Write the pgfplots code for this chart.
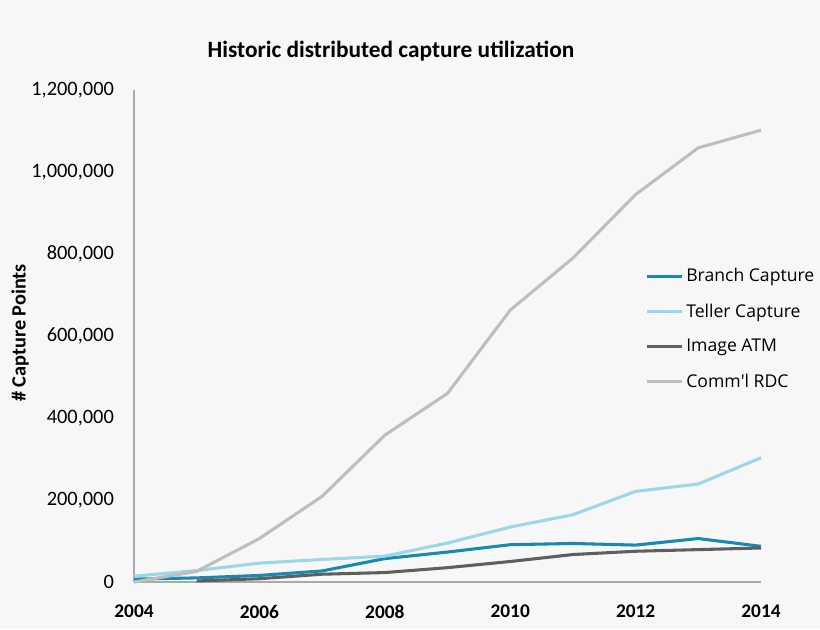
\documentclass[border=0pt]{standalone}
\usepackage{fontspec}
\setmainfont{Carlito}
\newfontfamily\legendfont{Open Sans}
\usepackage{pgfplots}
\pgfplotsset{compat=1.18}
\definecolor{branch}{RGB}{24,137,176}
\definecolor{teller}{RGB}{155,215,232}
\definecolor{atm}{RGB}{95,95,95}
\definecolor{rdc}{RGB}{190,190,190}
\definecolor{axisgray}{RGB}{170,170,170}
\definecolor{bg}{RGB}{247,247,247}
\begin{document}
\begin{tikzpicture}
\fill[bg] (-100.5pt,-35.25pt) rectangle (514.5pt,436.5pt);
\useasboundingbox (-100.5pt,-35.25pt) rectangle (514.5pt,436.5pt);
\begin{axis}[
    at={(0pt,0pt)}, anchor=origin,
    scale only axis,
    width=470.25pt, height=369pt,
    xmin=2004, xmax=2014,
    ymin=0, ymax=1200000,
    axis x line=bottom, axis y line=left,
    axis line style={draw=axisgray, line width=0.8pt, -},
    xtick={2004,2006,2008,2010,2012,2014},
    xticklabels={2004,2006,2008,2010,2012,2014},
    ytick={0,200000,400000,600000,800000,1000000,1200000},
    yticklabels={0,{200,000},{400,000},{600,000},{800,000},{1,000,000},{1,200,000}},
    tick style={draw=none},
    scaled y ticks=false,
    x tick label style={font=\fontsize{14.5}{17}\selectfont\bfseries,
        anchor=north, inner sep=0pt, yshift=-15pt},
    y tick label style={font=\fontsize{15.3}{18}\selectfont,
        anchor=east, inner sep=0pt, xshift=-12.75pt},
    legend style={at={(rel axis cs:0.816,0.643)}, anchor=north west, draw=none, fill=none,
        font=\legendfont\fontsize{13.2}{15}\selectfont, row sep=11pt, inner sep=0pt,
        cells={anchor=west}},
    legend image code/.code={\draw[#1] (0pt,0pt) -- (26pt,0pt);},
    clip=false,
]
\addplot[branch, line width=2.3pt] coordinates {
    (2004,7000) (2005,10000) (2006,16000) (2007,27000) (2008,57000) (2009,73000)
    (2010,91000) (2011,94000) (2012,90000) (2013,106000) (2014,87000)
};
\addlegendentry{Branch Capture}
\addplot[teller, line width=2.3pt] coordinates {
    (2004,14000) (2005,28000) (2006,46000) (2007,55000) (2008,63000) (2009,95000)
    (2010,134000) (2011,164000) (2012,221000) (2013,239000) (2014,303000)
};
\addlegendentry{Teller Capture}
\addplot[atm, line width=2.3pt] coordinates {
    (2005,2500) (2006,8000) (2007,19000) (2008,23000) (2009,35000)
    (2010,50000) (2011,67000) (2012,75000) (2013,79000) (2014,83000)
};
\addlegendentry{Image ATM}
\addplot[rdc, line width=2.3pt] coordinates {
    (2004,0) (2005,26000) (2006,106000) (2007,209000) (2008,358000) (2009,460000)
    (2010,663000) (2011,790000) (2012,945000) (2013,1059000) (2014,1102000)
};
\addlegendentry{Comm\textquotesingle l RDC}
\end{axis}
\node[font=\fontsize{17.5}{21}\selectfont\bfseries] at (192.75pt,398pt) {Historic distributed capture utilization};
\node[font=\fontsize{15.2}{18}\selectfont\bfseries, rotate=90] at (-85.5pt,186.75pt) {\# Capture Points};
\end{tikzpicture}
\end{document}
